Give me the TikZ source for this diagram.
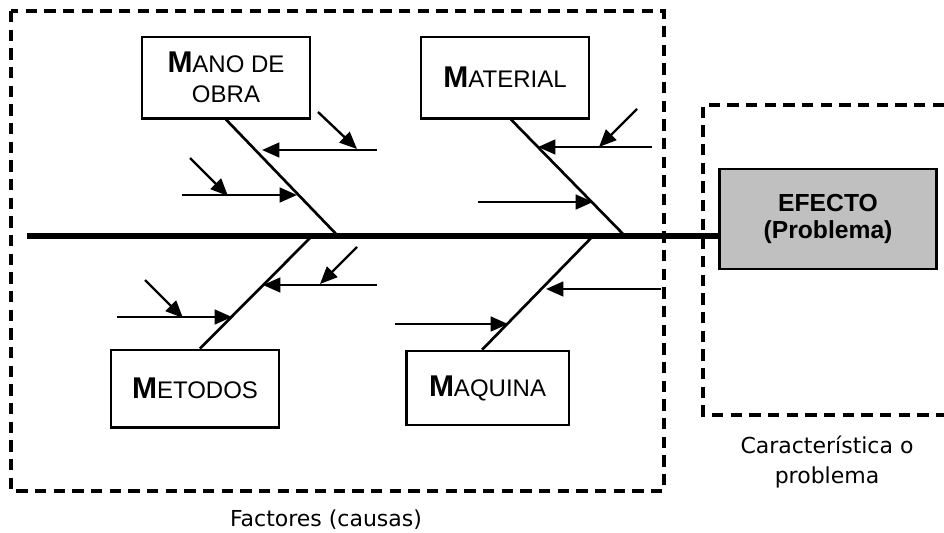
\documentclass[tikz,border=0pt]{standalone}
\usepackage{fontspec}
\setmainfont{Liberation Sans}
\newfontfamily\rotulofont{DejaVu Sans}
\usetikzlibrary{arrows.meta}
\definecolor{gris}{RGB}{192,192,192}
\newcommand{\letraM}{{\fontsize{22.5}{23}\selectfont\bfseries M}}

\begin{document}
\begin{tikzpicture}[x=0.75pt, y=-0.75pt, thick]
\tikzstyle{caja} = [rectangle, draw, line width=2pt, text centered, align=center, inner sep=0pt, font=\fontsize{18}{22.5}\selectfont]
\tikzstyle{zona} = [line width=2.3pt, dash pattern=on 8.5pt off 5.5pt]
\tikzstyle{espina} = [line width=2pt]
\tikzstyle{causa} = [line width=1.8pt, -{Triangle[length=13pt,width=11pt]}]
\tikzstyle{rotulo} = [font=\rotulofont\fontsize{16.5}{23}\selectfont, align=center, inner sep=0pt]

\useasboundingbox (0,0) rectangle (944,532);

\draw[zona] (11,11) rectangle (664,491);
\draw[zona] (944,105) -- (703,105) -- (703,415) -- (944,415);

\node[caja, minimum width=126pt, minimum height=61pt] (manoobra) at (226,77.5) {\letraM ANO DE\\OBRA};
\node[caja, minimum width=126pt, minimum height=61pt] (material) at (505,77.5) {\letraM ATERIAL};
\node[caja, minimum width=126pt, minimum height=58pt] (metodos) at (195,388.5) {\letraM ETODOS};
\node[caja, minimum width=122pt, minimum height=55.5pt] (maquina) at (487.5,388) {\letraM AQUINA};
\node[caja, fill=gris, minimum width=163pt, minimum height=75pt, font=\fontsize{18.5}{20}\selectfont\bfseries] (efecto) at (828,219) {EFECTO\\(Problema)};

\coordinate (cola) at (27,236);
\coordinate (jmo) at (338,236);
\coordinate (jmat) at (625,236);
\coordinate (jmet) at (312,236);
\coordinate (jmaq) at (593,236);

\draw[line width=4pt] (cola) -- (cola -| efecto.west);

\draw[espina] (manoobra.south) -- (jmo);
\draw[espina] ([xshift=4.5pt]material.south) -- (jmat);
\draw[espina] ([xshift=3.75pt]metodos.north) -- (jmet);
\draw[espina] ([xshift=-4pt]maquina.north) -- (jmaq);

\coordinate (moA1) at (377,150); \coordinate (moA2) at (262,150);
\coordinate (moB1) at (318,112); \coordinate (moB2) at (357,149);
\coordinate (moC1) at (182,195); \coordinate (moC2) at (297,195);
\coordinate (moD1) at (190,158); \coordinate (moD2) at (228,196);
\draw[causa] (moA1) -- (moA2);
\draw[causa] (moB1) -- (moB2);
\draw[causa] (moC1) -- (moC2);
\draw[causa] (moD1) -- (moD2);

\coordinate (maA1) at (652,147); \coordinate (maA2) at (538,147);
\coordinate (maB1) at (637,109); \coordinate (maB2) at (599,147);
\coordinate (maC1) at (478,202); \coordinate (maC2) at (593,202);
\draw[causa] (maA1) -- (maA2);
\draw[causa] (maB1) -- (maB2);
\draw[causa] (maC1) -- (maC2);

\coordinate (meA1) at (377,285); \coordinate (meA2) at (263,285);
\coordinate (meB1) at (357,247); \coordinate (meB2) at (320,284);
\coordinate (meC1) at (117,317); \coordinate (meC2) at (232,317);
\coordinate (meD1) at (145,280); \coordinate (meD2) at (183,318);
\draw[causa] (meA1) -- (meA2);
\draw[causa] (meB1) -- (meB2);
\draw[causa] (meC1) -- (meC2);
\draw[causa] (meD1) -- (meD2);

\coordinate (mqA1) at (661,289); \coordinate (mqA2) at (546,289);
\coordinate (mqB1) at (395,324); \coordinate (mqB2) at (508,324);
\draw[causa] (mqA1) -- (mqA2);
\draw[causa] (mqB1) -- (mqB2);

\node[rotulo, anchor=base] (factores) at (326,526) {Factores (causas)};
\node[rotulo, anchor=north] (caracteristica) at (827,435) {Característica o\\problema};

\end{tikzpicture}
\end{document}
